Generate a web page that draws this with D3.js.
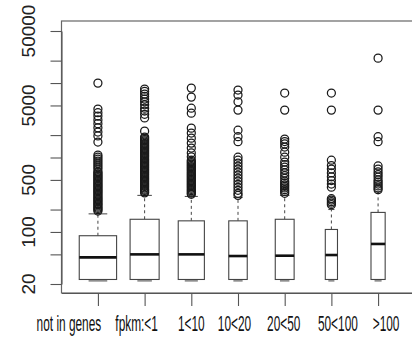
<!DOCTYPE html>
<html>
<head>
<meta charset="utf-8">
<script src="https://cdnjs.cloudflare.com/ajax/libs/d3/7.8.5/d3.min.js"></script>
<style>
body{margin:0;background:#fff;}
svg{display:block;}
</style>
</head>
<body>
<svg id="chart" width="412" height="338"></svg>
<script>
var categories = ["not in genes", "fpkm:<1", "1<10", "10<20", "20<50", "50<100", ">100"];
// group sizes, boxes drawn with varwidth
var groupSizes = [20000, 12100, 9800, 4900, 5100, 2130, 2880];
var lowWhisker = [22, 22, 22, 22, 22, 22, 22];
var q1 = [23, 23, 23, 23, 23, 23, 23];
var medians = [45.6, 50, 50, 47.5, 48, 49, 69];
var q3 = [89, 148, 141, 141, 148, 108, 183];
var highWhisker = [175, 310, 300, 290, 310, 200, 345];
var outliers = [
  [9980, 4470, 4000, 3600, 3200, 2850, 2500, 2200, 1950, 1610, 1080, 1015, 954, 897, 843, 792, 744, 700,
   650, 625, 600, 577, 555, 534, 513, 493, 474, 456, 438, 421, 405, 389, 374, 360, 346, 333, 320, 307, 295,
   284, 273, 262, 252, 242, 233, 224, 215, 207, 199, 191],
  [8300, 7700, 7100, 6600, 6100, 5600, 5100, 4600, 4200, 3800, 3400, 2260,
   1880, 1808, 1738, 1671, 1607, 1545, 1486, 1429, 1374, 1321, 1270, 1221, 1174, 1129, 1086, 1044, 1004,
   965, 928, 892, 858, 825, 793, 763, 733, 705, 678, 652, 627, 603, 580, 557, 536, 515, 495, 476, 458,
   440, 423, 407, 391, 376, 362, 348, 335],
  [8550, 6470, 4600, 3940, 2480, 2130, 1820, 1560, 1340, 1150, 1020,
   920, 885, 851, 818, 786, 756, 727, 699, 672, 646, 621, 597, 574, 552, 531, 511, 491, 472, 454, 437,
   420, 404, 388, 373, 359, 345, 332, 320],
  [8040, 6890, 5600, 4330, 2330, 1900, 1630, 1010, 920, 838, 764, 696, 634, 578, 527, 480, 437, 398, 363, 330, 310],
  [7330, 4330, 1770, 1640, 1520, 1380, 1180, 1010, 870, 800, 740, 680, 620, 570, 525, 480, 455, 430, 410,
   390, 370, 350, 330],
  [7330, 4330, 920, 780, 700, 620, 550, 490, 440, 400, 280, 268, 255, 243, 232],
  [21600, 4330, 1900, 1630, 770, 700, 640, 590, 546, 500, 468, 440, 415, 389, 370]
];
var yTicks = [20, 50, 100, 200, 500, 1000, 2000, 5000, 10000, 20000, 50000];
var yLabels = [20, 100, 500, 5000, 50000];

var svg = d3.select("#chart"),
  margin = {top: 21, left: 61.5, bottom: 45, right: -2.5},
  width = +svg.attr("width") - margin.left - margin.right,
  height = +svg.attr("height") - margin.top - margin.bottom;

// R pads the range by 4% on each side
var x = d3.scaleLinear()
  .domain([0.22, categories.length + 0.78])
  .range([margin.left, margin.left + width]);

var y = d3.scaleLog()
  .domain([20, 50000])
  .range([284, 31]);

var unit = x(2) - x(1);
var maxRoot = d3.max(groupSizes, function(d){ return Math.sqrt(d); });
function boxW(i){ return 0.8 * unit * Math.sqrt(groupSizes[i]) / maxRoot; }

svg.append("rect")
  .attr("x", margin.left)
  .attr("y", margin.top)
  .attr("width", width)
  .attr("height", height)
  .attr("fill", "none")
  .attr("stroke", "#666")
  .attr("stroke-width", 1.2);

var yAxis = svg.append("g")
  .attr("transform", "translate(" + margin.left + ",0)")
  .call(d3.axisLeft(y).tickValues(yTicks).tickSize(11).tickSizeOuter(0).tickFormat(""));
yAxis.selectAll("line, path").attr("stroke", "#555").attr("stroke-width", 1.1);

svg.selectAll(".ylab")
  .data(yLabels)
  .enter().append("text")
  .attr("class", "ylab")
  .attr("transform", function(d){ return "translate(35," + y(d) + ") rotate(-90)"; })
  .attr("text-anchor", "middle")
  .style("font-family", "Liberation Sans, Arial, sans-serif")
  .style("font-size", "19px")
  .attr("fill", "#222")
  .text(function(d){ return d; });

var xAxis = svg.append("g")
  .attr("transform", "translate(0," + (margin.top + height) + ")")
  .call(d3.axisBottom(x).tickValues(d3.range(1, categories.length + 1)).tickSize(13).tickSizeOuter(0).tickFormat(""));
xAxis.selectAll("line, path").attr("stroke", "#555").attr("stroke-width", 1.1);

// labels sit a little off their ticks in the original
var labelShift = [-29, -8, 0, -3.5, -1, 6.5, 8];
svg.selectAll(".xlab")
  .data(categories)
  .enter().append("text")
  .attr("class", "xlab")
  .attr("transform", function(d, i){ return "translate(" + (x(i + 1) + labelShift[i]) + ",331) scale(0.54,1)"; })
  .attr("text-anchor", "middle")
  .style("font-family", "Liberation Sans, Arial, sans-serif")
  .style("font-size", "22px")
  .attr("fill", "#111")
  .text(function(d){ return d; });

var boxes = svg.selectAll(".box")
  .data(categories)
  .enter().append("g")
  .attr("class", "box");

boxes.append("line")
  .attr("x1", function(d, i){ return x(i + 1); })
  .attr("x2", function(d, i){ return x(i + 1); })
  .attr("y1", function(d, i){ return y(q3[i]); })
  .attr("y2", function(d, i){ return y(highWhisker[i]); })
  .attr("stroke", "#444")
  .attr("stroke-dasharray", "3,3");

boxes.append("line")
  .attr("x1", function(d, i){ return x(i + 1) - boxW(i) / 4; })
  .attr("x2", function(d, i){ return x(i + 1) + boxW(i) / 4; })
  .attr("y1", function(d, i){ return y(highWhisker[i]); })
  .attr("y2", function(d, i){ return y(highWhisker[i]); })
  .attr("stroke", "#444");

boxes.append("line")
  .attr("x1", function(d, i){ return x(i + 1) - boxW(i) / 4; })
  .attr("x2", function(d, i){ return x(i + 1) + boxW(i) / 4; })
  .attr("y1", function(d, i){ return y(lowWhisker[i]); })
  .attr("y2", function(d, i){ return y(lowWhisker[i]); })
  .attr("stroke", "#444");

boxes.append("rect")
  .attr("x", function(d, i){ return x(i + 1) - boxW(i) / 2; })
  .attr("y", function(d, i){ return y(q3[i]); })
  .attr("width", function(d, i){ return boxW(i); })
  .attr("height", function(d, i){ return y(q1[i]) - y(q3[i]); })
  .attr("fill", "#fff")
  .attr("stroke", "#444")
  .attr("stroke-width", 1.1);

boxes.append("line")
  .attr("x1", function(d, i){ return x(i + 1) - boxW(i) / 2; })
  .attr("x2", function(d, i){ return x(i + 1) + boxW(i) / 2; })
  .attr("y1", function(d, i){ return y(medians[i]); })
  .attr("y2", function(d, i){ return y(medians[i]); })
  .attr("stroke", "#111")
  .attr("stroke-width", 2.6);

boxes.each(function(d, i){
  d3.select(this).selectAll("circle")
    .data(outliers[i])
    .enter().append("circle")
    .attr("cx", x(i + 1))
    .attr("cy", function(v){ return y(v); })
    .attr("r", 4)
    .attr("fill", "none")
    .attr("stroke", "#1a1a1a")
    .attr("stroke-width", 1.25);
});
</script>
</body>
</html>
